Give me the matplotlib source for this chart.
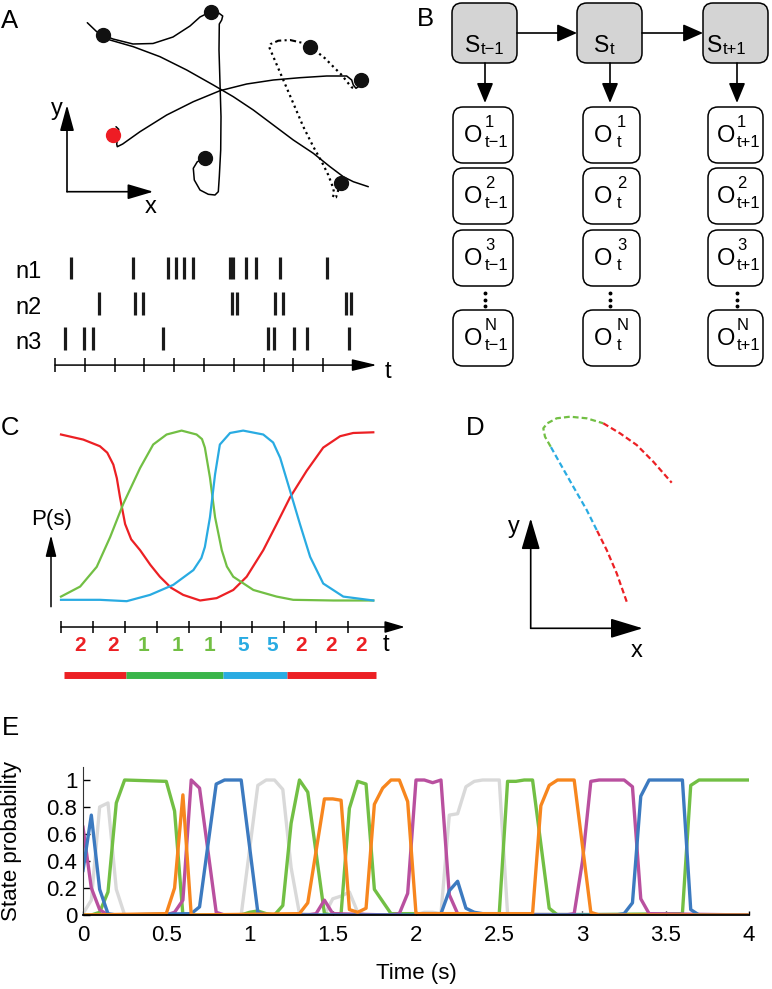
import matplotlib
matplotlib.use('Agg')
import matplotlib.pyplot as plt
from matplotlib.patches import FancyBboxPatch

plt.rcParams['font.family'] = ['Liberation Sans', 'DejaVu Sans']

W, H = 772, 989
RED = '#ec2024'
GREEN = '#72bf44'
BLUE = '#29abe2'

# ---------------- data ----------------
# panel A: schematic trajectory (pixel units of the figure)
traj_dots = [(102.7, 35), (210.7, 11.7), (310, 46.7), (360.7, 80), (205, 158.3), (340.7, 183.3)]
traj_start = (113.3, 135)
traj_solid = [
    [(87.3, 22.7), (96.7, 31.7), (102.7, 35), (113, 39), (133, 44), (153, 43.5), (173, 37), (190, 26),
     (200, 17), (210.7, 11.7)],
    [(210.7, 11.7), (218.3, 12.7), (222.7, 16), (221.7, 20), (219.3, 24), (219, 50), (220, 83.3),
     (221, 116.7), (220.7, 150), (219.3, 176.7), (218.3, 191.7), (215, 195), (208.3, 194.3), (200, 190),
     (194.3, 180), (193.3, 168.3), (197.3, 161.7), (205, 158.3)],
    [(102.7, 35), (110, 40), (133.3, 46.7), (160, 56.7), (186.7, 70), (213.3, 85), (233.3, 96.7),
     (253.3, 110), (273.3, 125), (293.3, 140), (313.3, 153.3), (330, 166.7), (343.3, 176.7),
     (353.3, 181.7), (368.3, 186.7)],
    [(116, 126.7), (118.7, 129.3), (118, 136.7), (116.7, 144), (117.3, 146.7), (122.7, 144), (140, 131.7),
     (166.7, 115), (193.3, 101.7), (220, 90.7), (246.7, 84), (273.3, 80), (300, 77.7), (326.7, 76),
     (346.7, 76), (351.7, 80), (353.3, 85), (356, 88.3), (359.3, 86), (360.7, 80)],
]
traj_dotted = [
    [(310, 46.7), (316.7, 51.7), (325, 58.3), (333.3, 66.7), (341.7, 75), (348.3, 83.3), (351.7, 87.3),
     (355, 88.3)],
    [(269.3, 47.3), (273.3, 56.7), (283.3, 80), (293.3, 103.3), (303.3, 126.7), (313.3, 146.7),
     (321.7, 161.7), (328.3, 175), (332.7, 186.7), (334.3, 193.3), (332.7, 197.3), (336, 197.3),
     (338.3, 190), (340.7, 183.3)],
]
traj_dashdot = [(310, 46.7), (301.7, 42.7), (290, 40), (278.3, 40.7), (270.7, 44), (269.3, 47.3)]

# panel A: spike raster (time in tick units)
raster_names = ['n1', 'n2', 'n3']
spikes_n1 = [0.53, 2.63, 3.80, 4.06, 4.33, 4.64, 5.87, 5.98, 6.41, 6.74, 7.55, 9.12]
spikes_n2 = [1.49, 2.68, 2.94, 5.93, 6.12, 7.38, 7.66, 9.77, 9.92]
spikes_n3 = [0.34, 0.97, 1.27, 3.61, 7.16, 7.35, 8.02, 8.47, 9.86]
raster_ticks = list(range(10))

# panel B
b_sub = ['t\u22121', 't', 't+1']
b_sup = ['1', '2', '3', 'N']

# panel C: schematic state posteriors
c_red_t = [0.0, 0.70, 1.22, 1.45, 1.64, 1.75, 1.85, 2.01, 2.2, 2.48, 2.8, 3.10, 3.45, 3.83, 4.36, 4.88,
           5.40, 5.82, 6.34, 6.76, 7.18, 7.70, 8.22, 8.75, 9.16, 9.79]
c_red_p = [0.977, 0.947, 0.908, 0.87, 0.80, 0.72, 0.607, 0.45, 0.36, 0.296, 0.21, 0.14, 0.075, 0.033,
           0.0, 0.014, 0.062, 0.14, 0.296, 0.45, 0.607, 0.763, 0.90, 0.967, 0.986, 0.99]
c_green_t = [0.0, 0.60, 1.12, 1.54, 1.95, 2.48, 2.89, 3.31, 3.78, 4.25, 4.42, 4.51, 4.67, 4.83, 5.04, 5.20,
             5.40, 6.03, 6.76, 7.28, 8.54, 9.79]
c_green_p = [0.023, 0.082, 0.198, 0.373, 0.568, 0.78, 0.918, 0.977, 1.0, 0.977, 0.95, 0.90, 0.723, 0.49,
             0.296, 0.20, 0.14, 0.062, 0.023, 0.004, 0.0, 0.0]
c_blue_t = [0.0, 1.22, 2.06, 2.79, 3.52, 4.15, 4.40, 4.51, 4.67, 4.83, 4.98, 5.30, 5.71, 6.34, 6.65, 6.87,
            7.18, 7.49, 7.81, 8.22, 8.85, 9.79]
c_blue_p = [0.004, 0.004, -0.004, 0.033, 0.092, 0.179, 0.25, 0.315, 0.49, 0.743, 0.918, 0.986, 1.0, 0.977,
            0.93, 0.84, 0.646, 0.45, 0.257, 0.10, 0.023, 0.0]
c_ticks = list(range(10))
c_label_t = [0.6, 1.63, 2.6, 3.64, 4.64, 5.71, 6.61, 7.52, 8.46, 9.4]
c_labels = ['2', '2', '1', '1', '1', '5', '5', '2', '2', '2']
c_label_col = [RED, RED, GREEN, GREEN, GREEN, BLUE, BLUE, RED, RED, RED]
c_bar_edges = [0.1, 2.03, 5.09, 7.1, 9.87]
c_bar_col = [RED, '#39b54a', BLUE, RED]

# panel D: decoded path pieces
d_red_lo = [(96, 26.6), (86, 55), (76, 78.3), (66, 98.3)]
d_blue = [(66, 98.3), (56, 118.3), (42.6, 141.6), (29.3, 165), (20, 181.6)]
d_green = [(20, 181.6), (14.3, 191.6), (12.6, 200), (16.6, 205), (26, 210), (39.3, 211.6), (56, 210),
           (72.6, 205)]
d_red_up = [(72.6, 205), (89.3, 195), (106, 183.3), (122.6, 166.6), (141, 145.6)]

# panel E: state probabilities over time
e_gray_t = [0, 0.05, 0.1, 0.15, 0.2, 0.25, 0.95, 1.05, 1.1, 1.15, 1.2, 1.25, 1.3, 1.45, 1.5, 1.55, 1.6,
            1.65, 1.7, 2.0, 2.05, 2.1, 2.15, 2.2, 2.25, 2.3, 2.35, 2.4, 2.45, 2.5, 2.55, 4.0]
e_gray_y = [0.01, 0.11, 0.8, 0.83, 0.19, 0.0, 0.0, 0.96, 1.0, 1.0, 0.93, 0.35, 0.01, 0.0, 0.12, 0.14, 0.17,
            0.02, 0.0, 0.0, 0.02, 0.02, 0.01, 0.74, 0.75, 0.95, 0.99, 1.0, 1.0, 1.0, 0.01, 0.0]
e_green_t = [0, 0.05, 0.1, 0.15, 0.2, 0.25, 0.5, 0.55, 0.6, 0.95, 1.0, 1.05, 1.1, 1.15, 1.2, 1.25, 1.3,
             1.35, 1.45, 1.5, 1.55, 1.6, 1.65, 1.7, 1.75, 1.8, 1.85, 2.5, 2.55, 2.6, 2.65, 2.7, 2.8, 2.85,
             3.6, 3.65, 3.7, 4.0]
e_green_y = [0, 0, 0.02, 0.17, 0.83, 1.0, 0.99, 0.77, 0.0, 0.0, 0.02, 0.03, 0.01, 0.0, 0.07, 0.68, 1.0,
             0.91, 0.01, 0.0, 0.01, 0.79, 0.99, 0.97, 0.19, 0.1, 0.01, 0.01, 0.99, 0.99, 1.0, 1.0, 0.05, 0.0,
             0.01, 0.96, 1.0, 1.0]
e_mag_t = [0, 0.05, 0.1, 0.15, 0.5, 0.55, 0.6, 0.65, 0.7, 0.8, 0.85, 1.35, 1.4, 1.45, 1.5, 1.85, 1.9,
           1.95, 2.0, 2.05, 2.1, 2.15, 2.2, 2.25, 2.3, 2.9, 2.95, 3.0, 3.05, 3.1, 3.25, 3.3, 3.35, 3.4, 4.0]
e_mag_y = [0.65, 0.2, 0.04, 0.0, 0.0, 0.02, 0.11, 1.0, 0.94, 0.02, 0.0, 0.0, 0.01, 0.11, 0.01, 0.0, 0.01,
           0.16, 1.0, 1.0, 0.98, 1.0, 0.15, 0.01, 0.0, 0.0, 0.01, 0.4, 0.99, 1.0, 1.0, 0.95, 0.12, 0.01, 0.0]
e_blue_t = [0, 0.05, 0.1, 0.15, 0.2, 0.65, 0.7, 0.8, 0.85, 0.95, 1.05, 1.1, 2.1, 2.15, 2.2, 2.25, 2.3,
            2.35, 2.4, 2.45, 3.2, 3.25, 3.3, 3.35, 3.4, 3.6, 3.65, 3.7, 4.0]
e_blue_y = [0.33, 0.74, 0.19, 0.01, 0.0, 0.01, 0.06, 0.97, 1.0, 1.0, 0.02, 0.0, 0.0, 0.01, 0.18, 0.25,
            0.05, 0.02, 0.01, 0.0, 0.0, 0.01, 0.09, 0.88, 1.0, 1.0, 0.04, 0.0, 0.0]
e_orange_t = [0, 0.5, 0.55, 0.6, 0.65, 1.3, 1.35, 1.45, 1.5, 1.55, 1.6, 1.65, 1.7, 1.75, 1.8, 1.85, 1.9,
              1.95, 2.0, 2.7, 2.75, 2.8, 2.85, 2.95, 3.05, 3.1, 4.0]
e_orange_y = [0, 0.01, 0.2, 0.89, 0.0, 0.01, 0.09, 0.86, 0.86, 0.85, 0.04, 0.02, 0.05, 0.82, 0.94, 1.0, 1.0,
              0.84, 0.01, 0.01, 0.81, 0.96, 1.0, 1.0, 0.02, 0.0, 0.0]
e_xticks = [0, 0.5, 1, 1.5, 2, 2.5, 3, 3.5, 4]
e_yticks = [0, 0.2, 0.4, 0.6, 0.8, 1]

# ---------------- figure ----------------
fig = plt.figure(figsize=(W / 100, H / 100), dpi=100)


def px_axes(left, top, right, bottom, xlim, ylim):
    ax = fig.add_axes([left / W, 1 - bottom / H, (right - left) / W, (bottom - top) / H])
    ax.set_xlim(*xlim)
    ax.set_ylim(*ylim)
    ax.axis('off')
    return ax


def arrow(ax, x0, y0, x1, y1, hl, hw, lw=1.2):
    # hl, hw: head length / full width in pixels
    style = '-|>,head_length=%.3f,head_width=%.3f' % (hl * 0.72 / 10, hw * 0.72 / 20)
    ax.annotate('', xy=(x1, y1), xytext=(x0, y0),
                arrowprops=dict(arrowstyle=style, mutation_scale=10, lw=lw, color='k',
                                shrinkA=0, shrinkB=0))


canvas = px_axes(0, 0, W, H, (0, W), (H, 0))

for lab, x, y in [('A', 1, 28), ('B', 417, 26), ('C', 1, 435), ('D', 466, 435), ('E', 2, 735)]:
    canvas.text(x, y, lab, fontsize=18.5, ha='left', va='baseline')

# ---- A: trajectory
for seg in traj_solid:
    canvas.plot([p[0] for p in seg], [p[1] for p in seg], color='k', lw=1.1, solid_capstyle='round')
for seg in traj_dotted:
    canvas.plot([p[0] for p in seg], [p[1] for p in seg], color='k', lw=1.6, ls=(0, (1, 1.6)))
canvas.plot([p[0] for p in traj_dashdot], [p[1] for p in traj_dashdot], color='k', lw=1.5,
            ls=(0, (3, 1.6, 1, 1.6)))
canvas.plot([p[0] for p in traj_dots], [p[1] for p in traj_dots], 'o', color='#111111', ms=10, zorder=5)
canvas.plot([traj_start[0]], [traj_start[1]], 'o', color='#ee1c24', ms=10, zorder=5)
arrow(canvas, 67, 191.7, 67, 105, 22, 12)
arrow(canvas, 67, 191.7, 153.3, 191.7, 22, 13)
canvas.text(57, 115, 'y', fontsize=17, ha='center', va='baseline')
canvas.text(151, 213, 'x', fontsize=17, ha='center', va='baseline')

# ---- A: raster  (x: tick units, y: row index)
ax_r = px_axes(0, 240, 400, 390, ((0 - 55) / 29.8, (400 - 55) / 29.8),
               ((390 - 268) / 35.3, (240 - 268) / 35.3))
for r, times in enumerate([spikes_n1, spikes_n2, spikes_n3]):
    ax_r.vlines(times, r - 0.32, r + 0.32, color='#1a1a1a', lw=2.3)
    ax_r.text(-1.34, r + 0.29, raster_names[r], fontsize=17, ha='left', va='baseline')
ax_r.vlines(raster_ticks, 2.75 - 0.19, 2.75 + 0.19, color='k', lw=1.1)
arrow(ax_r, 0, 2.75, 10.8, 2.75, 21, 10, lw=1.1)
ax_r.text(11.06, 3.12, 't', fontsize=17, ha='left', va='baseline')

# ---- B: graphical model
s_left = [452, 577, 703]
s_main_x = [465, 594, 707]
s_sub_x = [481, 610, 723]
o_left = [453, 583, 708]
o_w = [60, 57, 55]
o_main_x = [464, 594, 717]
o_scr_x = [485, 617, 737]
col_cx = [485, 610, 737]
o_tops = [107, 168, 230, 310]
for i in range(3):
    canvas.add_patch(FancyBboxPatch((s_left[i], 3), 65, 60, boxstyle='round,pad=0,rounding_size=10',
                                    fc='#d4d4d4', ec='k', lw=1.1))
    canvas.text(s_main_x[i], 52, 'S', fontsize=16.5, ha='left', va='baseline')
    canvas.text(s_sub_x[i], 53.5, b_sub[i], fontsize=12, ha='left', va='baseline')
    arrow(canvas, col_cx[i], 63, col_cx[i], 103, 17, 14)
    for j, top in enumerate(o_tops):
        canvas.add_patch(FancyBboxPatch((o_left[i], top), o_w[i], 56,
                                        boxstyle='round,pad=0,rounding_size=10',
                                        fc='white', ec='k', lw=1.1))
        canvas.text(o_main_x[i], top + 35, 'O', fontsize=17, ha='left', va='baseline')
        canvas.text(o_scr_x[i], top + 20, b_sup[j], fontsize=12, ha='left', va='baseline')
        canvas.text(o_scr_x[i], top + 40, b_sub[i], fontsize=12, ha='left', va='baseline')
    canvas.plot([col_cx[i]] * 3, [293, 299.5, 306], 'o', color='k', ms=1.8)
for i in range(2):
    arrow(canvas, s_left[i] + 65, 33, s_left[i + 1], 33, 17, 15)

# ---- C: posterior schematic (x: time units, y: probability)
ax_c = px_axes(0, 400, 420, 700, ((0 - 61) / 31.9, (420 - 61) / 31.9),
               ((600.5 - 700) / 169.9, (600.5 - 400) / 169.9))
ax_c.plot(c_red_t, c_red_p, color=RED, lw=1.6)
ax_c.plot(c_green_t, c_green_p, color=GREEN, lw=1.6)
ax_c.plot(c_blue_t, c_blue_p, color=BLUE, lw=1.6)
ax_c.vlines(c_ticks, -0.156 - 0.038, -0.156 + 0.038, color='k', lw=1.1)
arrow(ax_c, 0, -0.156, 10.78, -0.156, 17, 10, lw=1.1)
for t, s, c in zip(c_label_t, c_labels, c_label_col):
    ax_c.text(t, -0.30, s, fontsize=15, fontweight='bold', color=c, ha='center', va='baseline')
ax_c.text(10.18, -0.30, 't', fontsize=17, ha='center', va='baseline')
for k in range(4):
    ax_c.plot([c_bar_edges[k], c_bar_edges[k + 1]], [-0.438, -0.438], color=c_bar_col[k], lw=5,
              solid_capstyle='butt')
arrow(canvas, 51, 606.7, 51, 535, 18, 9, lw=1.1)
canvas.text(52, 525, 'P(s)', fontsize=16, ha='center', va='baseline')

# ---- D: decoded trajectory (pixel-scaled axes with origin at arrow corner)
ax_d = px_axes(460, 395, 772, 670, (460 - 530.7, 772 - 530.7), (628.3 - 670, 628.3 - 395))
dash = (0, (2.6, 1.4))
for seg, col in [(d_red_lo, RED), (d_blue, BLUE), (d_green, GREEN), (d_red_up, RED)]:
    ax_d.plot([p[0] for p in seg], [p[1] for p in seg], color=col, lw=1.6, ls=dash)
arrow(ax_d, 0, 0, 0, 110, 27, 16)
arrow(ax_d, 0, 0, 112, 0, 28, 17)
ax_d.text(-17, 95, 'y', fontsize=17, ha='center', va='baseline')
ax_d.text(106, -29, 'x', fontsize=17, ha='center', va='baseline')

# ---- E: state probabilities
axE = fig.add_axes([83 / W, 1 - 915 / H, 666 / W, 148.5 / H])
axE.plot(e_gray_t, e_gray_y, color='#d9d9d9', lw=2.4, zorder=2)
axE.plot(e_green_t, e_green_y, color=GREEN, lw=2.4, zorder=2)
axE.plot(e_mag_t, e_mag_y, color='#b9509f', lw=2.4, zorder=2)
axE.plot(e_blue_t, e_blue_y, color='#3c7ac0', lw=2.4, zorder=2)
axE.plot(e_orange_t, e_orange_y, color='#f7861e', lw=2.4, zorder=2)
axE.set_xlim(0, 4)
axE.set_ylim(0, 1.1)
axE.set_xticks(e_xticks)
axE.set_xticklabels(['%g' % v for v in e_xticks])
axE.set_yticks(e_yticks)
axE.set_yticklabels(['%g' % v for v in e_yticks])
for side in ['top', 'right']:
    axE.spines[side].set_visible(False)
axE.spines['left'].set_color('#333333')
axE.spines['bottom'].set_color('k')
axE.spines['bottom'].set_linewidth(1.3)
axE.spines['bottom'].set_zorder(3)
axE.patch.set_alpha(0)
axE.tick_params(axis='y', direction='in', length=5, width=1, labelsize=16, pad=4)
axE.tick_params(axis='x', direction='in', length=3, width=1, labelsize=16, pad=7)
axE.set_xlabel('Time (s)', fontsize=16)
axE.set_ylabel('State probability', fontsize=16)
axE.xaxis.set_label_coords(0.5, -0.32)
axE.yaxis.set_label_coords(-0.092, 0.5)

fig.savefig('out.png', dpi=100)
